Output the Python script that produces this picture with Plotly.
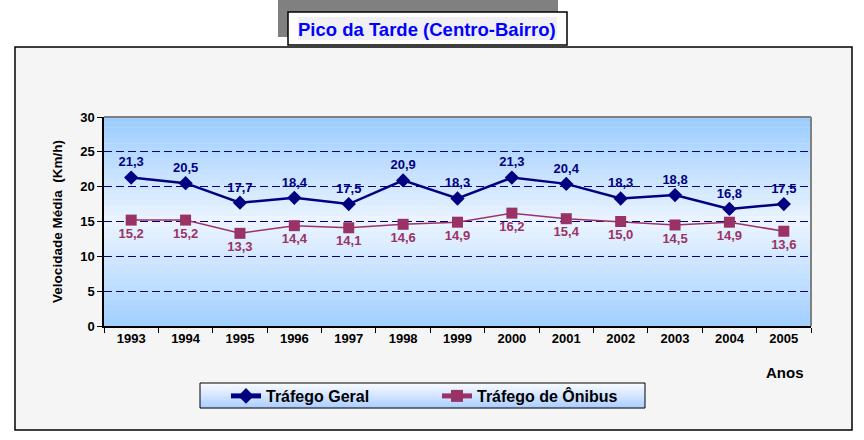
import plotly.graph_objects as go

anos = [1993, 1994, 1995, 1996, 1997, 1998, 1999, 2000, 2001, 2002, 2003, 2004, 2005]
trafego_geral = [21.3, 20.5, 17.7, 18.4, 17.5, 20.9, 18.3, 21.3, 20.4, 18.3, 18.8, 16.8, 17.5]
trafego_onibus = [15.2, 15.2, 13.3, 14.4, 14.1, 14.6, 14.9, 16.2, 15.4, 15.0, 14.5, 14.9, 13.6]
y_ticks = [0, 5, 10, 15, 20, 25, 30]

W, H = 864, 440
L, R, T, B = 104, 811, 117, 326  # plot area pixels


def px(x):
    return (x - L) / (R - L)


def py(y):
    return (B - y) / (B - T)


def fmt(v):
    return f"{v:.1f}".replace(".", ",")


def lerp(c1, c2, t):
    return tuple(round(a + (b - a) * t) for a, b in zip(c1, c2))


FONT = "Liberation Sans, Arial, sans-serif"

fig = go.Figure()

fig.add_trace(go.Scatter(
    x=anos, y=trafego_geral, name="Tráfego Geral", mode="lines+markers+text",
    line=dict(color="#000080", width=2.5),
    marker=dict(symbol="diamond", size=11, color="#000080"),
    text=[fmt(v) for v in trafego_geral], textposition="top center",
    textfont=dict(family=FONT, size=13, color="#000080", weight="bold"),
))
fig.add_trace(go.Scatter(
    x=anos, y=trafego_onibus, name="Tráfego de Ônibus", mode="lines+markers+text",
    line=dict(color="#993366", width=1.5),
    marker=dict(symbol="square", size=11, color="#993366"),
    text=[fmt(v) for v in trafego_onibus], textposition="bottom center",
    textfont=dict(family=FONT, size=13, color="#993366", weight="bold"),
))

shapes = []
# outer frame
shapes.append(dict(type="rect", xref="paper", yref="paper", layer="below",
                   x0=px(15), x1=px(852), y0=py(430), y1=py(47),
                   fillcolor="#f5f5f5", line=dict(color="black", width=1.5)))
# plot-area gradient
top_c, mid_c, bot_c = (153, 204, 255), (236, 244, 255), (160, 207, 255)
n = 40
for i in range(n):
    t = (i + 0.5) / n
    c = lerp(top_c, mid_c, t / 0.5) if t < 0.5 else lerp(mid_c, bot_c, (t - 0.5) / 0.5)
    shapes.append(dict(type="rect", xref="x domain", yref="y domain", layer="below",
                       x0=0, x1=1, y0=1 - i / n, y1=1 - (i + 1) / n - 0.002,
                       fillcolor=f"rgb{c}", line=dict(width=0)))
# plot border top/right gray
shapes.append(dict(type="line", xref="x domain", yref="y domain", x0=0, x1=1, y0=1, y1=1,
                   line=dict(color="#808080", width=2), layer="below"))
shapes.append(dict(type="line", xref="x domain", yref="y domain", x0=1, x1=1, y0=0, y1=1,
                   line=dict(color="#808080", width=2), layer="below"))
# legend box gradient
lx0, lx1, ly0, ly1 = 200, 645, 383, 408
m = 12
for i in range(m):
    t = (i + 0.5) / m
    c = lerp((250, 252, 255), (170, 205, 255), t)
    shapes.append(dict(type="rect", xref="paper", yref="paper", layer="below",
                       x0=px(lx0), x1=px(lx1),
                       y0=py(ly0 + (ly1 - ly0) * i / m), y1=py(ly0 + (ly1 - ly0) * (i + 1) / m + 0.3),
                       fillcolor=f"rgb{c}", line=dict(width=0)))
shapes.append(dict(type="rect", xref="paper", yref="paper", layer="below",
                   x0=px(lx0), x1=px(lx1), y0=py(ly1), y1=py(ly0),
                   fillcolor="rgba(0,0,0,0)", line=dict(color="black", width=1)))
# title boxes
shapes.append(dict(type="rect", xref="paper", yref="paper", layer="above",
                   x0=px(278), x1=px(558), y0=py(37), y1=py(-2),
                   fillcolor="#808080", line=dict(width=0)))
shapes.append(dict(type="rect", xref="paper", yref="paper", layer="above",
                   x0=px(288), x1=px(567), y0=py(45), y1=py(12),
                   fillcolor="white", line=dict(color="black", width=1.5)))
shapes.append(dict(type="rect", xref="paper", yref="paper", layer="above",
                   x0=px(298), x1=px(557), y0=py(40), y1=py(17),
                   fillcolor="#f0f0f4", line=dict(width=0)))

annotations = [
    dict(text="<b>Pico da Tarde (Centro-Bairro)</b>", xref="paper", yref="paper",
         x=px(427), y=py(29), showarrow=False, xanchor="center", yanchor="middle",
         font=dict(family=FONT, size=18.5, color="#0000ff")),
    dict(text="<b>Anos</b>", xref="paper", yref="paper", x=px(785), y=py(372),
         showarrow=False, xanchor="center", yanchor="middle",
         font=dict(family=FONT, size=15, color="black")),
]

fig.update_layout(
    width=W, height=H,
    margin=dict(l=L, r=W - R, t=T, b=H - B),
    paper_bgcolor="white", plot_bgcolor="rgba(0,0,0,0)",
    font=dict(family=FONT, size=12, color="black"),
    shapes=shapes, annotations=annotations,
    showlegend=True,
    legend=dict(orientation="h", x=px(226), y=py(396), xanchor="left", yanchor="middle",
                bgcolor="rgba(0,0,0,0)", entrywidth=166, entrywidthmode="pixels",
                font=dict(family=FONT, size=16, color="black", weight="bold"),
                itemsizing="constant"),
)
fig.update_xaxes(
    range=[1992.5, 2005.5], tickvals=anos, ticktext=[str(a) for a in anos],
    ticks="", showgrid=False, zeroline=False,
    showline=True, linecolor="black", linewidth=1.5,
    tickfont=dict(family=FONT, size=13, color="black", weight="bold"),
    minor=dict(tick0=1992.5, dtick=1, ticks="outside", ticklen=5, tickcolor="black", showgrid=False),
)
fig.update_yaxes(
    range=[0, 30], tickvals=y_ticks, ticks="outside", ticklen=5, tickcolor="black",
    showgrid=True, gridcolor="#000080", griddash="8px,4px", gridwidth=1,
    zeroline=False, showline=True, linecolor="black", linewidth=1.5,
    tickfont=dict(family=FONT, size=13, color="black", weight="bold"),
    title=dict(text="<b>Velocidade Média  (Km/h)</b>", standoff=14,
               font=dict(family=FONT, size=13.5, color="black")),
)

fig.write_html("out.html")
